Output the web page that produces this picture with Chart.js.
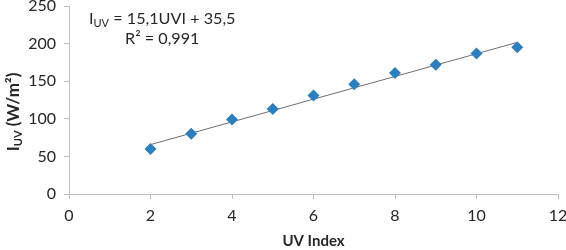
<!DOCTYPE html>
<html>
<head>
<meta charset="utf-8">
<script src="https://cdn.jsdelivr.net/npm/chart.js@4.4.1/dist/chart.umd.min.js"></script>
<style>
  html, body { margin: 0; padding: 0; background: #fff; }
  #wrap { width: 566px; height: 250px; }
</style>
</head>
<body>
<div id="wrap"><canvas id="grafico"></canvas></div>
<script>
// dados
const indiceUV = [2, 3, 4, 5, 6, 7, 8, 9, 10, 11];
const irradiancia = [60, 80, 99, 113, 131, 146, 161, 172, 187, 195];

// linha de tendência (extremos)
const tendenciaX = [2, 11];
const tendenciaY = [65.7, 201.6];

const ticksX = [0, 2, 4, 6, 8, 10, 12];
const ticksY = [0, 50, 100, 150, 200, 250];

const fonte = 'Lato, "Open Sans", sans-serif';
const corEixo = '#bfbfbf';
const corTexto = '#262626';

// desenha título do eixo Y (com subscrito) e a equação
const textosExtras = {
    id: 'textosExtras',
    afterDraw(chart) {
        const c = chart.ctx;

        // título Y rotacionado
        c.save();
        c.fillStyle = corTexto;
        c.textBaseline = 'alphabetic';
        c.translate(19, 112);
        c.rotate(-Math.PI / 2);
        const fGrande = 'bold 17px ' + fonte;
        const fSub = 'bold 11px ' + fonte;
        c.font = fGrande;
        const w1 = c.measureText('I').width;
        const w3 = c.measureText(' (W/m²)').width;
        c.font = fSub;
        const w2 = c.measureText('UV').width;
        let x = -(w1 + w2 + w3) / 2;
        c.font = fGrande;
        c.fillText('I', x, 0);
        x += w1;
        c.font = fSub;
        c.fillText('UV', x, 3);
        x += w2;
        c.font = fGrande;
        c.fillText(' (W/m²)', x, 0);
        c.restore();

        // equação da reta
        c.save();
        c.fillStyle = corTexto;
        c.textBaseline = 'alphabetic';
        const fEq = '16.2px ' + fonte;
        const fEqSub = '11px ' + fonte;
        c.font = fEq;
        const a = c.measureText('I').width;
        const b = c.measureText(' = 15,1UVI + 35,5').width;
        c.font = fEqSub;
        const s = c.measureText('UV').width;
        const inicio = 89;
        let ex = inicio;
        c.font = fEq;
        c.fillText('I', ex, 24);
        ex += a;
        c.font = fEqSub;
        c.fillText('UV', ex, 27);
        ex += s;
        c.font = fEq;
        c.fillText(' = 15,1UVI + 35,5', ex, 24);
        c.textAlign = 'center';
        c.fillText('R² = 0,991', inicio + (a + s + b) / 2, 44);
        c.restore();
    }
};

new Chart(document.getElementById('grafico'), {
    type: 'scatter',
    data: {
        datasets: [
            {
                label: 'IUV',
                data: indiceUV.map((v, i) => ({ x: v, y: irradiancia[i] })),
                pointStyle: 'rectRot',
                pointRadius: 6,
                backgroundColor: '#2a7fc1',
                borderColor: '#2a7fc1',
                borderWidth: 0,
                order: 1
            },
            {
                label: 'Tendência',
                type: 'line',
                data: tendenciaX.map((v, i) => ({ x: v, y: tendenciaY[i] })),
                borderColor: '#6e6e6e',
                borderWidth: 1,
                pointRadius: 0,
                fill: false,
                order: 2
            }
        ]
    },
    options: {
        responsive: true,
        maintainAspectRatio: false,
        animation: false,
        layout: { padding: 0 },
        plugins: {
            legend: { display: false },
            tooltip: { enabled: false }
        },
        scales: {
            x: {
                type: 'linear',
                min: 0,
                max: 12,
                afterBuildTicks: (scale) => { scale.ticks = ticksX.map(v => ({ value: v })); },
                afterFit: (scale) => {
                    scale.height = 56;
                    scale.paddingLeft = 0;
                    scale.paddingRight = 8;
                },
                grid: { drawOnChartArea: false, drawTicks: true, tickLength: 5, color: corEixo },
                border: { color: corEixo },
                ticks: { color: corTexto, font: { family: fonte, size: 16 }, padding: 7 },
                title: {
                    display: true,
                    text: 'UV Index',
                    color: corTexto,
                    font: { family: fonte, size: 15, weight: 'bold' },
                    padding: { top: 0, bottom: 0 }
                }
            },
            y: {
                type: 'linear',
                min: 0,
                max: 250,
                afterBuildTicks: (scale) => { scale.ticks = ticksY.map(v => ({ value: v })); },
                afterFit: (scale) => {
                    scale.width = 69;
                    scale.paddingTop = 6;
                    scale.paddingBottom = 0;
                },
                grid: { drawOnChartArea: false, drawTicks: true, tickLength: 5, color: corEixo },
                border: { color: corEixo },
                ticks: { color: corTexto, font: { family: fonte, size: 16 }, padding: 8 }
            }
        }
    },
    plugins: [textosExtras]
});
</script>
</body>
</html>
